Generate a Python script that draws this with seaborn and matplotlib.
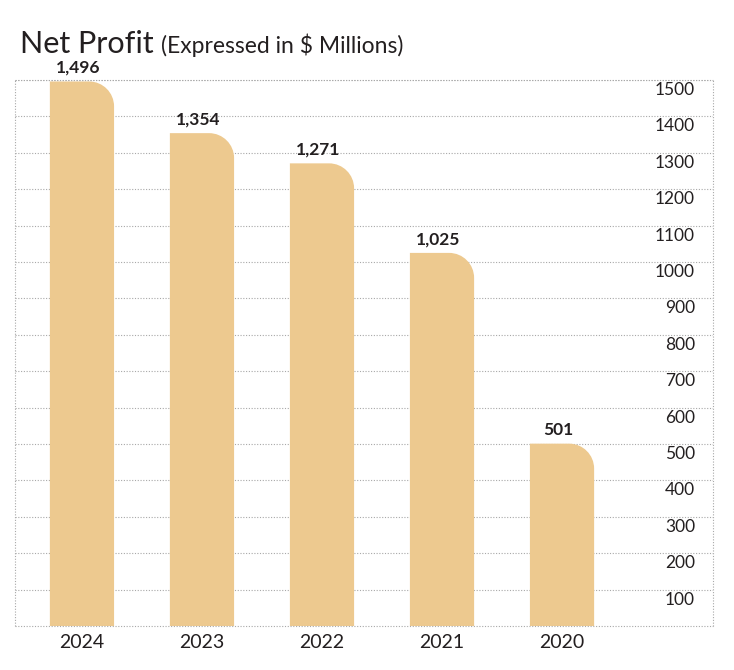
import numpy as np
import seaborn as sns
import matplotlib.pyplot as plt
from matplotlib.path import Path
from matplotlib.patches import PathPatch

# Chart data
years = ["2024", "2023", "2022", "2021", "2020"]
net_profit = [1496, 1354, 1271, 1025, 501]
grid_values = [100, 200, 300, 400, 500, 600, 700, 800, 900, 1000, 1100, 1200, 1300, 1400, 1500]

bar_color = "#EDC98F"
text_color = "#231F20"
grid_color = "#A8A8A8"

sns.set_style("white")
plt.rcParams["font.family"] = ["Lato", "DejaVu Sans"]

fig = plt.figure(figsize=(7.34, 6.70), dpi=100)
ax = fig.add_axes([15 / 734, 44 / 670, 698 / 734, 546 / 670])

sns.barplot(x=years, y=net_profit, color=bar_color, width=0.535, saturation=1, ax=ax)

ax.set_xlim(-0.558, 5.258)
ax.set_ylim(0, 1500)

# replace plain bars with bars that have a rounded top-right corner
px_x = 698 / (5.258 + 0.558)
px_y = 546 / 1500
rx, ry = 25 / px_x, 25 / px_y
k = 0.5523
for p in list(ax.patches):
    x0, w, h = p.get_x(), p.get_width(), p.get_height()
    x1 = x0 + w
    p.set_visible(False)
    verts = [(x0, 0), (x0, h), (x1 - rx, h),
             (x1 - rx * (1 - k), h), (x1, h - ry * (1 - k)), (x1, h - ry),
             (x1, 0), (x0, 0)]
    codes = [Path.MOVETO, Path.LINETO, Path.LINETO,
             Path.CURVE4, Path.CURVE4, Path.CURVE4,
             Path.LINETO, Path.CLOSEPOLY]
    ax.add_patch(PathPatch(Path(verts, codes), facecolor=bar_color, edgecolor="none", zorder=2))

# value labels above bars
for i, v in enumerate(net_profit):
    ax.annotate(f"{v:,}", xy=(i, v), xytext=(-3, 4), textcoords="offset points",
                ha="center", va="bottom", fontsize=12.5, fontweight="bold",
                color=text_color, annotation_clip=False)

# dotted grid + frame
ax.set_yticks(grid_values)
ax.set_yticklabels([])
ax.tick_params(axis="y", length=0)
ax.yaxis.grid(True, linestyle=(0, (1, 1.5)), color=grid_color, linewidth=0.8)
ax.set_axisbelow(True)
for s in ax.spines.values():
    s.set_visible(True)
    s.set_linestyle((0, (1, 1.5)))
    s.set_capstyle("butt")
    s.set_color(grid_color)
    s.set_linewidth(0.8)

# value scale written inside the plot, on the right
for v in grid_values:
    ax.annotate(str(v), xy=(1, v), xycoords=ax.get_yaxis_transform(),
                xytext=(-18, -10), textcoords="offset pixels",
                ha="right", va="center", fontsize=12.5, color=text_color)

ax.tick_params(axis="x", length=0, pad=6, labelsize=14, labelcolor=text_color)
ax.set_xlabel("")
ax.set_ylabel("")

t1 = fig.text(20 / 734, 1 - 53 / 670, "Net Profit", fontsize=22, color=text_color,
              ha="left", va="baseline")
fig.canvas.draw()
bb = t1.get_window_extent()
fig.text((bb.x1 + 7) / 734, 1 - 53 / 670, "(Expressed in $ Millions)", fontsize=16.5,
         color=text_color, ha="left", va="baseline")

fig.savefig("out.png", dpi=100)
